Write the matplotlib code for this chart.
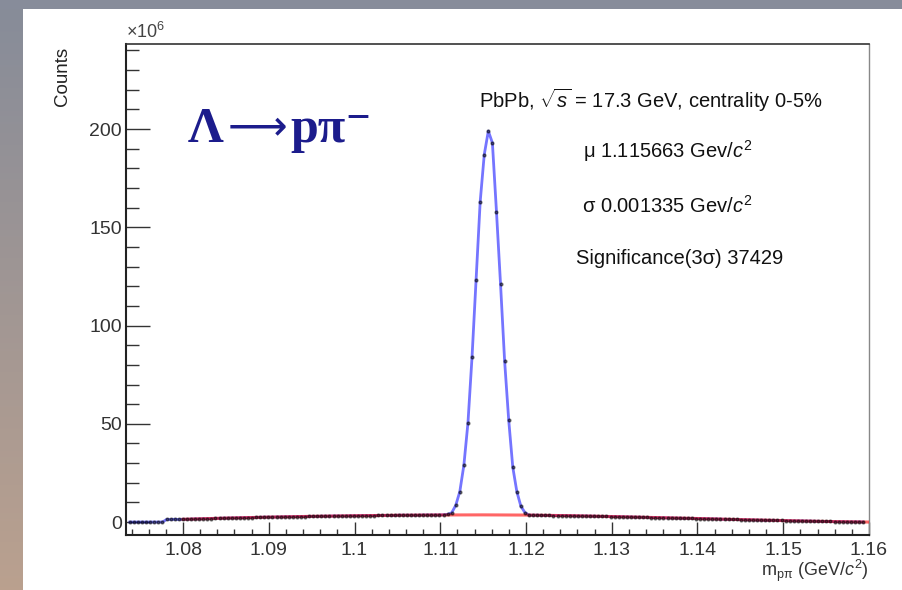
import numpy as np
import matplotlib
matplotlib.use("Agg")
import matplotlib.pyplot as plt
from matplotlib.patches import Rectangle
from matplotlib.ticker import MultipleLocator, FuncFormatter

plt.rcParams['font.family'] = ['Liberation Sans', 'DejaVu Sans']
plt.rcParams['mathtext.fontset'] = 'custom'
plt.rcParams['mathtext.rm'] = 'Liberation Sans'
plt.rcParams['mathtext.it'] = 'Liberation Sans:italic'

# histogram binning in m(p pi) [GeV/c^2]
bin_first = 1.073805
bin_width = 0.000475

# bin contents, in units of 10^6 counts
counts_low = [0.0, 0.0, 0.0, 0.0, 0.0, 0.0, 0.0, 0.0, 0.0,
              1.3, 1.3, 1.4, 1.3, 1.4,
              1.4, 1.5, 1.6, 1.6, 1.7, 1.7, 1.8, 1.9, 1.9, 2.0,
              2.0, 2.1, 2.1, 2.2, 2.2, 2.3, 2.3, 2.4, 2.4, 2.5,
              2.5, 2.5, 2.6, 2.6, 2.7, 2.7, 2.7, 2.8, 2.8, 2.8,
              2.9, 2.9, 2.9, 3.0, 3.0, 3.0, 3.1, 3.1, 3.1, 3.1,
              3.2, 3.2, 3.2, 3.3, 3.3, 3.3, 3.3, 3.4, 3.4, 3.4,
              3.4, 3.4, 3.5, 3.5, 3.5, 3.5, 3.5, 3.5, 3.6, 3.6,
              3.6, 3.6, 3.6, 3.7, 3.9]
counts_peak = [4.7, 8.5, 15.5, 29.0, 50.5, 84.0, 123.0, 163.0, 187.0, 199.0,
               193.0, 158.0, 121.0, 82.0, 52.0, 28.0, 15.5, 8.0, 4.8]
counts_high = [3.5, 3.5, 3.5, 3.4, 3.4, 3.4, 3.3, 3.3, 3.3, 3.3,
               3.2, 3.2, 3.1, 3.1, 3.1, 3.0, 3.0, 2.9, 2.9, 2.9,
               2.8, 2.8, 2.7, 2.7, 2.6, 2.6, 2.5, 2.5, 2.4, 2.4,
               2.3, 2.3, 2.2, 2.2, 2.1, 2.1, 2.0, 2.0, 1.9, 1.9,
               1.9, 1.8, 1.8, 1.7, 1.7, 1.6, 1.6, 1.5, 1.4, 1.4,
               1.3, 1.3, 1.2, 1.2, 1.1, 1.1, 1.0, 1.0, 0.9, 0.9,
               0.9, 0.8, 0.8, 0.7, 0.7, 0.6, 0.6, 0.6, 0.5, 0.5,
               0.4, 0.4, 0.3, 0.3, 0.3, 0.2, 0.2, 0.2, 0.1, 0.1,
               0.1, 0.1, 0.0]
counts = counts_low + counts_peak + counts_high

# background polynomial from the fit, sampled every 5 MeV
bkg_mass = [1.080, 1.085, 1.090, 1.095, 1.100, 1.105, 1.110, 1.115, 1.120,
            1.125, 1.130, 1.135, 1.140, 1.145, 1.150, 1.155, 1.160]
bkg_level = [1.4, 2.0, 2.5, 2.9, 3.2, 3.45, 3.6, 3.65, 3.55,
             3.25, 2.8, 2.3, 1.8, 1.25, 0.75, 0.3, 0.0]

mass = bin_first + bin_width * np.arange(len(counts))

fig = plt.figure(figsize=(9.02, 5.90), dpi=100)
fig.patch.set_facecolor('white')

# slide background: grey band on top, tinted strip on the left
deco = fig.add_axes([0, 0, 1, 1], zorder=-5)
grad = np.linspace([0.53, 0.55, 0.60], [0.73, 0.63, 0.56], 256)[:, None, :]
deco.imshow(grad, extent=(0, 23, 590, 9), aspect='auto')
deco.add_patch(Rectangle((0, 0), 902, 9, color='#878c9a', lw=0))
deco.set_xlim(0, 902)
deco.set_ylim(590, 0)
deco.axis('off')

ax = fig.add_axes([0.1397, 0.0932, 0.8237, 0.8322])
ax.set_facecolor('white')

# histogram as a polyline, background fit in red, bin markers on top
ax.plot(mass, counts, color='#3a3aff', lw=2.0, alpha=0.7, zorder=2)
ax.plot(bkg_mass, bkg_level, color='red', lw=2.2, alpha=0.6, zorder=3)
ax.plot(mass, counts, ls='none', marker='o', ms=2.0, color='black',
        alpha=0.5, zorder=4)

ax.set_xlim(1.07335, 1.16)
ax.set_ylim(-6.6, 243.3)

ax.xaxis.set_major_locator(MultipleLocator(0.01))
ax.xaxis.set_minor_locator(MultipleLocator(0.002))
ax.yaxis.set_major_locator(MultipleLocator(50))
ax.yaxis.set_minor_locator(MultipleLocator(10))
fmt = FuncFormatter(lambda v, p: '%g' % round(v, 4))
ax.xaxis.set_major_formatter(fmt)
ax.yaxis.set_major_formatter(fmt)

ax.tick_params(axis='x', which='major', direction='in', length=9.4, width=1.0,
               labelsize=14, pad=5, colors='#333333')
ax.tick_params(axis='x', which='minor', direction='in', length=4, width=1.0,
               colors='#333333')
ax.tick_params(axis='y', which='major', direction='in', length=17, width=1.0,
               labelsize=14, pad=3, colors='#333333')
ax.tick_params(axis='y', which='minor', direction='in', length=9, width=1.0,
               colors='#333333')

for side in ['left', 'bottom']:
    ax.spines[side].set_linewidth(1.5)
    ax.spines[side].set_color('#222222')
ax.spines['top'].set_linewidth(1.2)
ax.spines['top'].set_color('#333333')
ax.spines['right'].set_linewidth(1.0)
ax.spines['right'].set_color('#888888')

ax.text(-0.0861, 0.994, 'Counts', rotation=90, ha='center', va='top',
        fontsize=13.5, color='#222222', transform=ax.transAxes)
ax.text(0.0, 1.004, '×10$^{6}$', ha='left', va='bottom', fontsize=13,
        color='#444444', transform=ax.transAxes)
ax.text(1.0, -0.074, 'm$_{\\mathrm{p\\pi}}$ (GeV/$c^{2}$)', ha='right',
        va='center', fontsize=13, color='#333333', transform=ax.transAxes)

# decay channel label: bold letters, thin long arrow in between
navy = '#1c1c8c'
ax.text(0.0834, 0.800, 'Λ', ha='left', va='baseline', fontsize=36,
        color=navy, weight='bold', family='Liberation Serif',
        transform=ax.transAxes)
ax.text(0.137, 0.806, '⟶', ha='left', va='baseline', fontsize=30,
        color=navy, family='DejaVu Sans', transform=ax.transAxes)
ax.text(0.2207, 0.800, 'pπ⁻', ha='left', va='baseline', fontsize=36,
        color=navy, weight='bold',
        family=['Liberation Serif', 'DejaVu Serif'], transform=ax.transAxes)

ax.text(0.7066, 0.886, 'PbPb, $\\sqrt{s}$ = 17.3 GeV, centrality 0-5%',
        ha='center', va='center', fontsize=14.5, color='#111111',
        transform=ax.transAxes)
ax.text(0.7295, 0.782, 'μ 1.115663 Gev/$c^{2}$', ha='center', va='center',
        fontsize=14.5, color='#111111', transform=ax.transAxes)
ax.text(0.7281, 0.670, 'σ 0.001335 Gev/$c^{2}$', ha='center', va='center',
        fontsize=14.5, color='#111111', transform=ax.transAxes)
ax.text(0.7456, 0.564, 'Significance(3σ) 37429', ha='center', va='center',
        fontsize=14.5, color='#111111', transform=ax.transAxes)

fig.savefig('out.png', dpi=100)
